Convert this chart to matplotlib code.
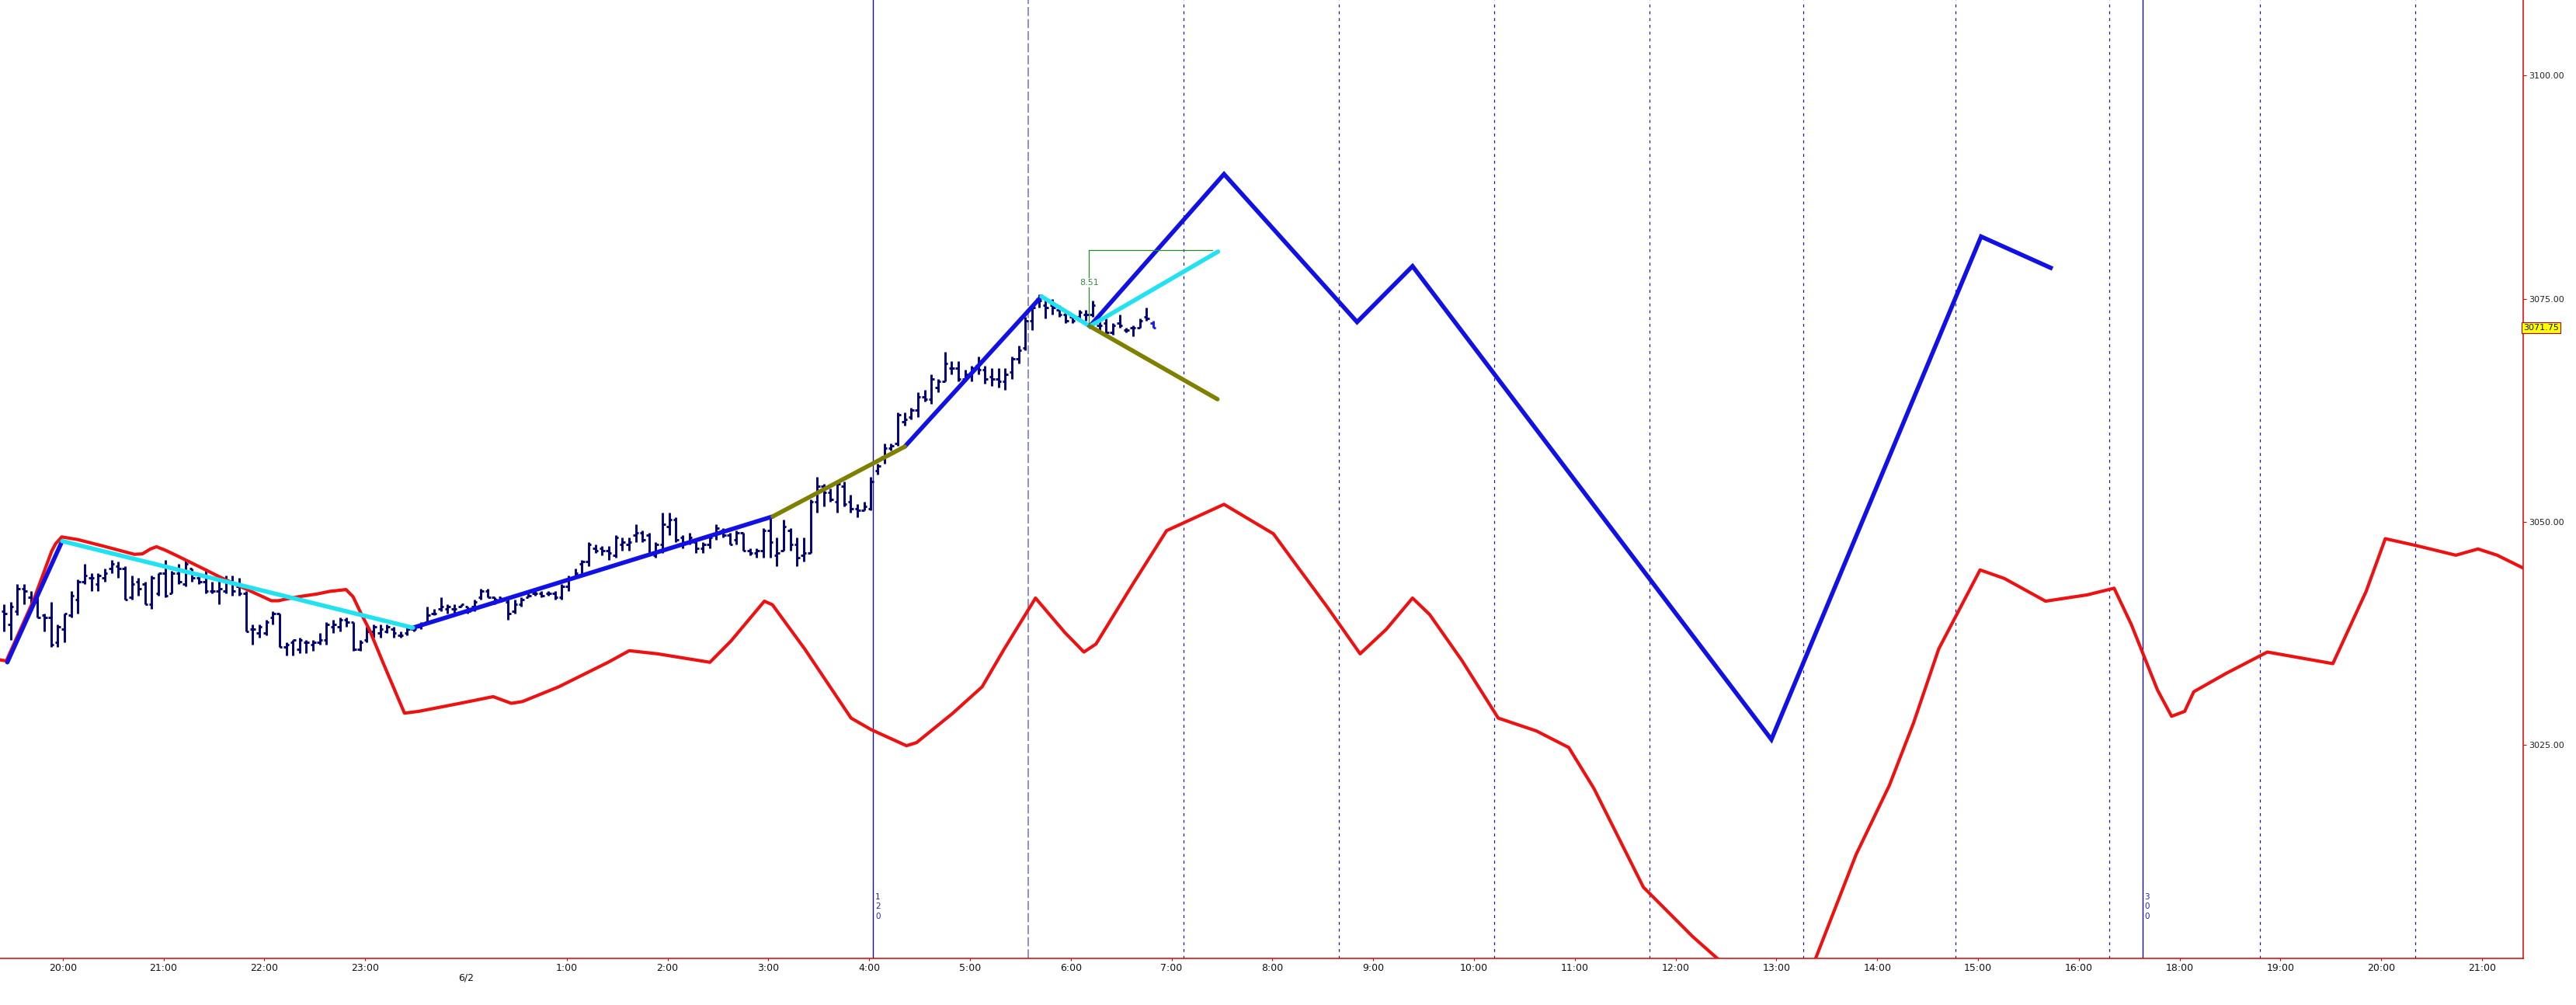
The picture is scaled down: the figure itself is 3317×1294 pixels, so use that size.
import matplotlib
matplotlib.use("Agg")
import matplotlib.pyplot
import matplotlib.transforms

##########################################################################################
# data
##########################################################################################

# session clock in hours: 0 = 19:00, 5 = 0:00 of 6/2, the 17:00-18:00 break is skipped (22 = 18:00)
tick_hours = [1, 2, 3, 4, 6, 7, 8, 9, 10, 11, 12, 13, 14, 15, 16, 17, 18, 19, 20, 21, 22, 23, 24, 25]
tick_labels = ["20:00", "21:00", "22:00", "23:00", "1:00", "2:00", "3:00", "4:00", "5:00", "6:00",
               "7:00", "8:00", "9:00", "10:00", "11:00", "12:00", "13:00", "14:00", "15:00", "16:00",
               "18:00", "19:00", "20:00", "21:00"]
date_hour = 5
date_label = "6/2"

price_ticks = [3025, 3050, 3075, 3100]
last_price = 3071.75

first_bar_hour = 0.4167   # 19:25
bar_minutes = 4

bar_high = [3040.75, 3041.0, 3043.0, 3043.0, 3042.25, 3041.5, 3039.75, 3041.0, 3038.5, 3039.75,
            3042.25, 3043.5, 3045.25, 3044.25, 3044.25, 3044.75, 3045.75, 3045.5, 3045.0, 3044.0,
            3043.75, 3043.25, 3044.0, 3044.25, 3045.75, 3044.5, 3045.25, 3045.75, 3044.75, 3044.25,
            3044.75, 3043.25, 3043.75, 3044.0, 3044.0, 3043.75, 3042.25, 3038.5, 3038.5, 3039.0,
            3040.0, 3039.75, 3036.5,
            3036.75, 3037.0, 3036.75, 3036.75, 3037.5, 3038.75, 3039.0, 3039.25, 3039.25, 3038.75,
            3036.75, 3038.25, 3038.5, 3038.5, 3038.5, 3038.25, 3037.75, 3038.25, 3038.25, 3038.75,
            3040.5, 3040.25, 3041.5, 3040.75, 3040.75, 3040.75, 3040.5, 3041.25, 3042.5, 3042.5,
            3041.5, 3041.5, 3041.25, 3041.25, 3041.5, 3042.0, 3042.25, 3042.25, 3042.25, 3042.25,
            3043.0, 3044.0, 3044.75,
            3045.75, 3047.75, 3047.5, 3047.25, 3047.25, 3048.5, 3048.25, 3048.25, 3049.75, 3049.0,
            3048.75, 3047.75, 3051.0, 3051.0, 3050.5, 3048.5, 3048.75, 3048.0, 3047.75, 3048.5,
            3049.75, 3049.25, 3048.75, 3049.0, 3048.75, 3047.0, 3047.0, 3049.25, 3050.5, 3048.25,
            3050.25, 3049.25, 3048.25, 3048.25, 3052.5, 3055.0, 3054.25, 3053.75, 3054.5, 3054.5,
            3053.0, 3052.0, 3052.25, 3055.0,
            3056.5, 3058.75, 3058.75, 3062.25, 3062.25, 3062.75, 3064.5, 3064.75, 3066.5, 3066.0,
            3069.0, 3068.0, 3068.0, 3067.0, 3067.5, 3068.5, 3067.5, 3067.25, 3067.25, 3067.25,
            3068.5, 3069.75, 3073.0, 3074.25, 3075.5, 3075.0, 3075.0, 3074.25, 3073.75, 3073.25,
            3073.75, 3073.75, 3074.75, 3072.75, 3072.75, 3072.25, 3073.25, 3071.75, 3072.0, 3072.75,
            3074.0, 3072.5]

bar_low = [3037.75, 3036.75, 3039.5, 3040.75, 3040.5, 3039.25, 3037.75, 3036.0, 3036.0, 3036.5,
           3039.25, 3039.75, 3043.0, 3042.25, 3042.25, 3043.25, 3044.25, 3043.75, 3041.25, 3041.25,
           3041.75, 3040.75, 3040.25, 3041.75, 3041.5, 3042.0, 3043.0, 3042.75, 3043.25, 3043.0,
           3042.0, 3042.0, 3040.75, 3042.0, 3041.75, 3041.75, 3037.75, 3036.25, 3037.0, 3037.25,
           3038.5, 3036.0, 3035.0,
           3035.0, 3035.25, 3035.25, 3035.5, 3036.25, 3036.25, 3037.5, 3037.75, 3038.25, 3035.5,
           3035.5, 3036.5, 3037.0, 3037.0, 3037.5, 3037.0, 3037.0, 3037.25, 3037.75, 3038.0,
           3038.5, 3039.5, 3040.0, 3039.75, 3039.75, 3040.5, 3039.75, 3040.0, 3041.25, 3041.5,
           3040.75, 3041.0, 3039.0, 3039.75, 3040.5, 3041.5, 3041.75, 3041.5, 3041.75, 3041.25,
           3041.25, 3042.25, 3043.75,
           3044.0, 3045.0, 3046.5, 3046.25, 3045.75, 3046.0, 3046.75, 3046.75, 3047.75, 3047.75,
           3046.25, 3046.0, 3046.5, 3048.5, 3047.75, 3047.0, 3047.5, 3046.5, 3046.5, 3047.0,
           3048.0, 3048.25, 3047.5, 3047.5, 3046.75, 3046.25, 3046.0, 3046.0, 3046.0, 3045.0,
           3046.75, 3046.75, 3045.0, 3045.5, 3046.5, 3051.0, 3051.75, 3052.25, 3051.0, 3051.75,
           3051.0, 3050.5, 3051.25, 3051.25,
           3055.25, 3056.5, 3058.0, 3058.5, 3060.75, 3061.5, 3061.75, 3063.5, 3063.25, 3064.5,
           3065.75, 3066.5, 3065.75, 3065.75, 3065.75, 3066.5, 3065.5, 3065.25, 3065.0, 3064.75,
           3066.0, 3067.75, 3069.25, 3071.5, 3074.0, 3072.75, 3073.25, 3073.0, 3072.25, 3072.25,
           3072.5, 3072.5, 3073.0, 3071.5, 3071.0, 3071.0, 3071.75, 3071.25, 3070.75, 3071.75,
           3072.5, 3071.75]

bar_open = [3040.0, 3038.5, 3040.0, 3042.5, 3041.5, 3041.0, 3039.5, 3039.25, 3036.5, 3038.0,
            3039.5, 3041.25, 3043.25, 3043.75, 3043.0, 3043.75, 3044.75, 3045.0, 3044.75, 3041.5,
            3043.25, 3043.0, 3040.75, 3042.0, 3044.25, 3042.0, 3044.25, 3043.0, 3044.75, 3043.75,
            3043.25, 3042.25, 3042.25, 3042.25, 3043.25, 3042.75, 3042.0, 3038.0, 3037.5, 3037.5,
            3039.25, 3039.75, 3036.0,
            3036.5, 3035.75, 3036.5, 3036.25, 3036.5, 3036.75, 3038.25, 3038.25, 3039.0, 3038.75,
            3035.75, 3036.75, 3037.75, 3037.5, 3037.75, 3038.0, 3037.25, 3037.5, 3038.0, 3038.25,
            3038.75, 3039.75, 3040.25, 3040.25, 3040.25, 3040.5, 3040.5, 3040.5, 3041.5, 3042.25,
            3041.5, 3041.5, 3041.0, 3040.0, 3040.75, 3041.5, 3042.0, 3042.0, 3042.0, 3042.0,
            3041.5, 3042.75, 3043.75,
            3045.25, 3045.5, 3047.0, 3047.0, 3046.75, 3046.25, 3047.5, 3047.5, 3048.5, 3048.75,
            3048.5, 3046.25, 3047.5, 3049.5, 3050.25, 3048.25, 3047.75, 3047.75, 3047.0, 3047.5,
            3048.5, 3049.0, 3048.5, 3048.0, 3048.75, 3046.75, 3046.5, 3046.75, 3049.0, 3046.25,
            3046.75, 3049.0, 3047.5, 3046.25, 3046.5, 3052.25, 3054.0, 3053.25, 3052.25, 3054.0,
            3052.25, 3051.5, 3051.25, 3051.5,
            3055.75, 3057.25, 3058.25, 3058.75, 3061.25, 3061.75, 3062.5, 3064.0, 3063.75, 3065.0,
            3065.75, 3067.25, 3067.25, 3066.0, 3066.5, 3067.5, 3067.0, 3066.25, 3066.0, 3065.75,
            3066.75, 3068.25, 3069.5, 3072.5, 3075.0, 3074.25, 3074.25, 3073.75, 3073.25, 3073.0,
            3073.0, 3073.25, 3073.25, 3072.0, 3072.25, 3071.25, 3072.25, 3071.5, 3071.75, 3071.75,
            3073.0, 3072.25]

bar_close = [3039.75, 3040.5, 3042.5, 3042.25, 3041.0, 3039.25, 3039.25, 3036.25, 3038.25, 3039.75,
             3041.75, 3043.25, 3044.0, 3043.75, 3044.0, 3044.25, 3045.25, 3044.75, 3041.25, 3043.0,
             3042.5, 3040.75, 3043.75, 3044.25, 3041.75, 3044.25, 3043.25, 3045.25, 3043.75, 3043.25,
             3042.25, 3042.25, 3042.5, 3043.25, 3042.25, 3042.0, 3037.75, 3038.0, 3038.25, 3038.75,
             3039.75, 3036.0, 3036.25,
             3036.75, 3036.75, 3036.5, 3036.5, 3036.75, 3038.5, 3038.5, 3039.0, 3038.75, 3035.75,
             3036.5, 3037.75, 3038.25, 3038.0, 3038.25, 3037.5, 3037.25, 3038.0, 3038.0, 3038.5,
             3039.5, 3039.75, 3040.5, 3040.5, 3040.25, 3040.75, 3040.0, 3041.0, 3042.25, 3041.5,
             3041.25, 3041.25, 3039.75, 3040.75, 3041.25, 3041.75, 3042.0, 3041.75, 3042.0, 3041.5,
             3042.75, 3043.75, 3044.25,
             3045.5, 3047.5, 3046.75, 3046.75, 3046.5, 3048.25, 3047.75, 3047.75, 3048.75, 3048.0,
             3046.5, 3047.5, 3049.75, 3050.25, 3048.0, 3047.75, 3048.25, 3047.0, 3047.5, 3048.25,
             3049.25, 3048.5, 3047.5, 3048.75, 3046.75, 3046.5, 3046.75, 3049.0, 3047.75, 3046.5,
             3049.5, 3047.5, 3046.0, 3046.5, 3052.25, 3054.0, 3053.25, 3052.5, 3054.25, 3052.0,
             3051.5, 3051.25, 3051.75, 3054.5,
             3056.25, 3058.25, 3058.5, 3062.0, 3061.5, 3062.5, 3064.0, 3063.75, 3066.0, 3065.75,
             3067.75, 3067.25, 3066.0, 3066.5, 3067.25, 3067.0, 3066.0, 3066.0, 3065.75, 3066.5,
             3068.25, 3069.25, 3072.5, 3074.0, 3074.75, 3074.0, 3074.0, 3073.25, 3072.5, 3072.5,
             3073.5, 3073.25, 3074.25, 3072.0, 3071.25, 3072.0, 3072.0, 3071.5, 3071.75, 3072.5,
             3072.75, 3071.75]

# red oscillator-like line
red_t = [0.39, 0.44, 0.71, 0.89, 0.93, 0.99, 1.15, 1.41, 1.71, 1.79, 1.87, 1.93, 2.02, 2.15, 2.41,
         2.56, 2.82, 3.07, 3.14, 3.20, 3.34, 3.52, 3.65, 3.81, 3.88, 3.96, 4.04, 4.20, 4.39, 4.53,
         4.94, 5.27, 5.45, 5.56, 5.92, 6.41, 6.62, 6.90, 7.42, 7.63, 7.96, 8.04, 8.36, 8.82, 9.02,
         9.37, 9.47, 9.83, 10.12, 10.34, 10.65, 10.94, 11.13, 11.25, 11.62, 11.95, 12.52, 13.01, 13.25,
         13.55, 13.87, 14.13, 14.39, 14.56, 14.88, 15.24, 15.62, 15.94, 16.19, 16.68, 17.17, 17.41, 17.9,
         18.3, 18.39, 18.79, 19.12, 19.36, 19.61, 20.02, 20.26, 20.67, 21.08, 21.35, 21.52, 21.78, 21.92,
         22.05, 22.14, 22.46, 22.87, 23.52, 23.85, 24.04, 24.34, 24.74, 24.96, 25.15, 25.41]
red_p = [3034.5, 3034.4, 3041.2, 3046.7, 3047.55, 3048.3, 3048.0, 3047.25, 3046.35, 3046.4, 3046.95,
         3047.2, 3046.8, 3046.1, 3044.65, 3043.8, 3042.45, 3041.15, 3041.15, 3041.3, 3041.6, 3041.9,
         3042.2, 3042.4, 3041.6, 3039.7, 3037.95, 3033.6, 3028.55, 3028.75, 3029.65, 3030.4, 3029.65,
         3029.85, 3031.5, 3034.25, 3035.55, 3035.2, 3034.25, 3036.65, 3041.1, 3040.7, 3035.75, 3028.0,
         3026.7, 3024.9, 3025.25, 3028.55, 3031.5, 3035.75, 3041.45, 3037.6, 3035.4, 3036.3, 3043.1,
         3049.0, 3051.95, 3048.65, 3044.95, 3040.35, 3035.2, 3037.95, 3041.45, 3039.6, 3034.45, 3028.0,
         3026.55, 3024.7, 3020.1, 3009.05, 3003.5, 3001.1, 2996.0, 2999.0, 3001.1, 3012.7, 3020.45,
         3027.45, 3035.75, 3044.6, 3043.65, 3041.1, 3041.8, 3042.55, 3038.5, 3031.15, 3028.2, 3028.75,
         3030.95, 3033.0, 3035.4, 3034.1, 3042.2, 3048.1, 3047.35, 3046.25, 3046.95, 3046.25, 3044.8]

# swing legs (blue = main swings, cyan = down legs, olive = slow legs)
blue_legs = [([0.45, 0.994], [3034.25, 3047.83]),
             ([4.474, 8.043], [3038.12, 3050.59]),
             ([9.353, 10.709], [3058.42, 3075.25])]
cyan_legs = [([0.994, 4.474], [3047.83, 3038.12]),
             ([10.709, 11.189], [3075.25, 3071.91])]
olive_legs = [([8.043, 9.353], [3050.59, 3058.42])]

# projection from the last pivot
proj_t = [11.189, 12.52, 13.84, 14.39, 17.95, 20.03, 20.72]
proj_p = [3071.91, 3088.96, 3072.38, 3078.64, 3025.6, 3081.96, 3078.46]
fan_up_t = [11.189, 12.46]
fan_up_p = [3071.91, 3080.27]
fan_down_t = [11.189, 12.455]
fan_down_p = [3071.91, 3063.73]

# measuring tool
measure_t = [11.18, 12.40]
measure_low = 3071.91
measure_high = 3080.42

# time cycle lines
cycle_solid = [9.04, 21.63]
cycle_solid_labels = ["120", "300"]
cycle_dashed = [10.58]
cycle_dotted = [12.12, 13.66, 15.20, 16.74, 18.27, 19.78, 21.30, 22.80, 24.34]

##########################################################################################
# figure
##########################################################################################

matplotlib.pyplot.rcParams["font.family"] = ["DejaVu Sans"]

figure = matplotlib.pyplot.figure(figsize=(33.17, 12.94), dpi=100, facecolor="white")
ax = figure.add_axes([0.0, 0.0464, 0.9795, 0.9536])
ax.set_facecolor("white")

x_data_y_axes = matplotlib.transforms.blended_transform_factory(ax.transData, ax.transAxes)
x_axes_y_data = matplotlib.transforms.blended_transform_factory(ax.transAxes, ax.transData)

# cycle lines
for x in cycle_solid:
    ax.axvline(x, color="#10109a", linewidth=1.0, zorder=1)
for x in cycle_dashed:
    ax.axvline(x, color="#8c8ce0", linewidth=1.4, linestyle=(0, (6, 2)), zorder=1)
for x in cycle_dotted:
    ax.axvline(x, color="#1a1aa8", linewidth=0.9, linestyle=(0, (3, 4)), zorder=1)
for x, label in zip(cycle_solid, cycle_solid_labels):
    ax.annotate("\n".join(label), xy=(x, 0.054), xycoords=x_data_y_axes,
                xytext=(2, 0), textcoords="offset points",
                ha="left", va="center", fontsize=7.5, color="#2020c0", linespacing=1.35)

# OHLC bars
n = len(bar_close)
bar_x = [first_bar_hour + i * bar_minutes / 60 for i in range(n)]
bar_colors = ["#000078"] * (n - 1) + ["#1a1aff"]
tick_w = 0.027
ax.vlines(bar_x, bar_low, bar_high, colors=bar_colors, linewidth=2.1, zorder=3)
ax.hlines(bar_open, [x - tick_w for x in bar_x], bar_x, colors=bar_colors, linewidth=2.1, zorder=3)
ax.hlines(bar_close, bar_x, [x + tick_w for x in bar_x], colors=bar_colors, linewidth=2.1, zorder=3)

# red line
ax.plot(red_t, red_p, color="#ee1111", linewidth=3.0, solid_joinstyle="round", zorder=4)

# swing legs
for t, p in blue_legs:
    ax.plot(t, p, color="#1111e6", linewidth=4.0, solid_capstyle="round", zorder=5)
for t, p in cyan_legs:
    ax.plot(t, p, color="#22e2f2", linewidth=4.0, solid_capstyle="round", zorder=5)
for t, p in olive_legs:
    ax.plot(t, p, color="#808000", linewidth=4.0, solid_capstyle="round", zorder=5)

ax.plot(proj_t, proj_p, color="#1111e6", linewidth=4.0, solid_joinstyle="miter", zorder=5)
ax.plot(fan_up_t, fan_up_p, color="#22e2f2", linewidth=4.0, solid_capstyle="round", zorder=5)
ax.plot(fan_down_t, fan_down_p, color="#808000", linewidth=4.0, solid_capstyle="round", zorder=5)

# measuring tool
ax.plot([measure_t[0], measure_t[0], measure_t[1]], [measure_low, measure_high, measure_high],
        color="#2a8a2a", linewidth=0.9, zorder=6)
ax.text(measure_t[0], (measure_low + measure_high) / 2 + 0.6, f"{measure_high - measure_low:.2f}",
        ha="center", va="center", fontsize=8, color="#3a8a3a", zorder=7,
        bbox=dict(facecolor="white", edgecolor="none", pad=0.6))

# axes
ax.set_xlim(0.3775, 25.408)
ax.set_ylim(3001.07, 3108.47)

ax.set_xticks(tick_hours)
ax.set_xticklabels(tick_labels, family=["Liberation Sans Narrow", "DejaVu Sans"], fontsize=9, color="#111111")
ax.text(date_hour, -0.0205, date_label, transform=x_data_y_axes, ha="center", va="center",
        family=["Liberation Sans Narrow", "DejaVu Sans"], fontsize=9, color="#111111")

ax.yaxis.tick_right()
ax.set_yticks(price_ticks)
ax.set_yticklabels([f"{v:.2f}" for v in price_ticks], fontsize=8, color="#222222")

ax.tick_params(axis="x", length=2.5, width=0.8, color="#cc0000", pad=2)
ax.tick_params(axis="y", length=3, width=0.8, color="#cc0000", pad=2)

for side in ["left", "top"]:
    ax.spines[side].set_visible(False)
for side in ["right", "bottom"]:
    ax.spines[side].set_color("#dd0000")
    ax.spines[side].set_linewidth(1.1)

# last price marker
ax.text(1.0, last_price, f"{last_price:.2f}", transform=x_axes_y_data, ha="left", va="center",
        fontsize=8, color="#111111", zorder=8, clip_on=False,
        bbox=dict(boxstyle="square,pad=0.2", facecolor="#ffff00", edgecolor="#b00000", linewidth=0.8))

matplotlib.pyplot.savefig("out.png", dpi=100, facecolor="white")
matplotlib.pyplot.close()
